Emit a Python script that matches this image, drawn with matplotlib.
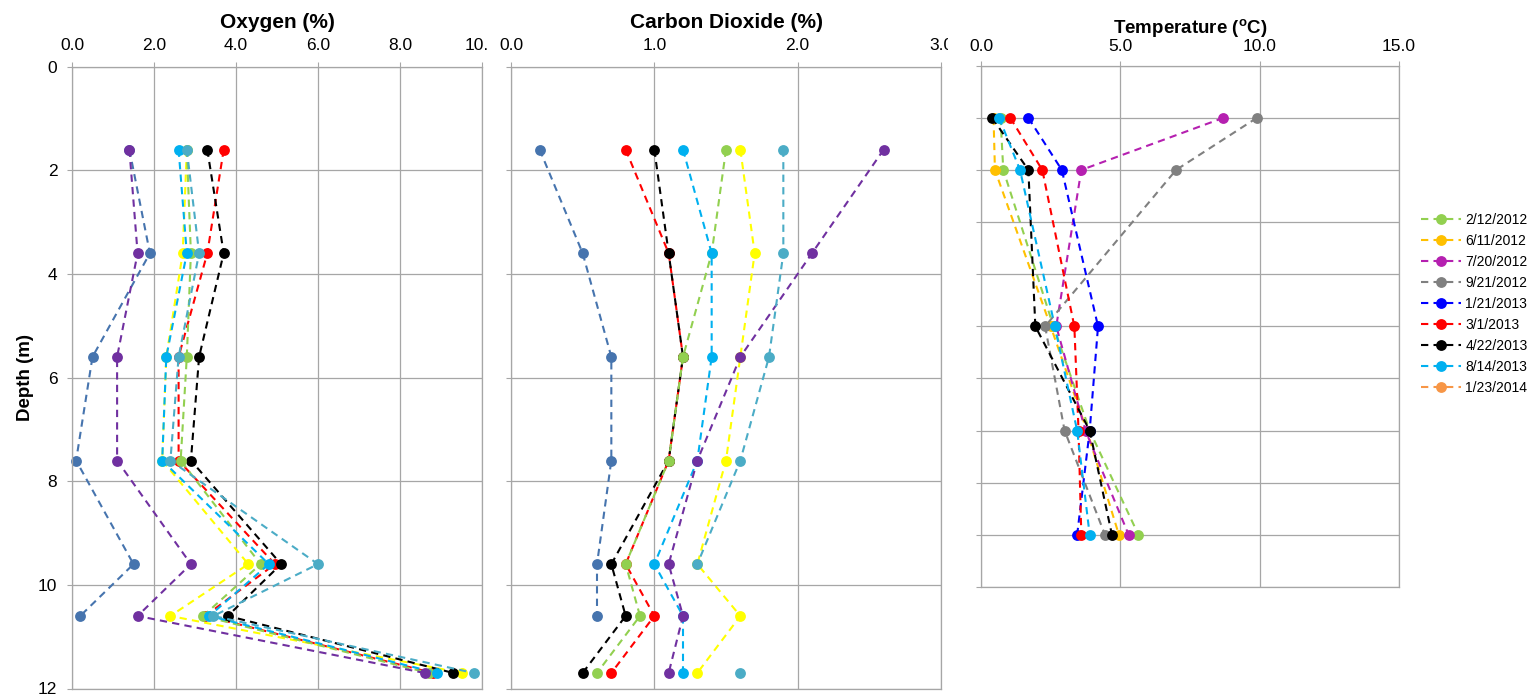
import numpy as np
import matplotlib
matplotlib.use("Agg")
import matplotlib.pyplot as plt
from matplotlib.transforms import Bbox, TransformedBbox

plt.rcParams['font.family'] = ['Liberation Sans', 'DejaVu Sans']
plt.rcParams['mathtext.fontset'] = 'custom'
plt.rcParams['mathtext.rm'] = 'Liberation Sans'
plt.rcParams['mathtext.bf'] = 'Liberation Sans:bold'

nan = np.nan

# gas sampling depths (m)
gas_depth = [1.6, 3.6, 5.6, 7.6, 9.6, 10.6, 11.7]

# oxygen (%)
o2_steel = [1.4, 1.9, 0.5, 0.1, 1.5, 0.2, nan]
o2_yellow = [2.8, 2.7, 2.3, 2.2, 4.3, 2.4, 9.5]
o2_red = [3.7, 3.3, 2.6, 2.6, 4.95, 3.25, 8.8]
o2_black = [3.3, 3.7, 3.1, 2.9, 5.1, 3.8, 9.3]
o2_green = [2.8, 2.9, 2.8, 2.65, 4.6, 3.2, 8.7]
o2_cyan = [2.6, 2.8, 2.3, 2.2, 4.8, 3.35, 8.9]
o2_purple = [1.4, 1.6, 1.1, 1.1, 2.9, 1.6, 8.6]
o2_teal = [2.8, 3.1, 2.6, 2.4, 6.0, 3.45, 9.8]

# carbon dioxide (%)
co2_steel = [0.2, 0.5, 0.7, 0.7, 0.6, 0.6, nan]
co2_yellow = [1.6, 1.7, 1.6, 1.5, 1.3, 1.6, 1.3]
co2_red = [0.8, 1.1, 1.2, 1.1, 0.8, 1.0, 0.7]
co2_black = [1.0, 1.1, 1.2, 1.1, 0.7, 0.8, 0.5]
co2_green = [1.5, 1.4, 1.2, 1.1, 0.8, 0.9, 0.6]
co2_cyan = [1.2, 1.4, 1.4, 1.3, 1.0, 1.2, 1.2]
co2_purple = [2.6, 2.1, 1.6, 1.3, 1.1, 1.2, 1.1]
co2_teal = [1.9, 1.9, 1.8, 1.6, 1.3, nan, 1.6]

gas_colors = ['#4674AE', '#FFFF00', '#FF0000', '#000000',
              '#92D050', '#00B0F0', '#7030A0', '#4BACC6']

# temperature (deg C)
temp_depth = [1, 2, 5, 7, 9]
temp_dates = ['2/12/2012', '6/11/2012', '7/20/2012', '9/21/2012', '1/21/2013',
              '3/1/2013', '4/22/2013', '8/14/2013', '1/23/2014']
t_feb12 = [0.7, 0.8, 2.6, 3.9, 5.65]
t_jun12 = [0.45, 0.5, 2.5, 3.8, 4.95]
t_jul12 = [8.7, 3.6, 2.7, 3.75, 5.3]
t_sep12 = [9.9, 7.0, 2.3, 3.0, 4.45]
t_jan13 = [1.7, 2.9, 4.2, 3.9, 3.45]
t_mar13 = [1.05, 2.2, 3.35, 3.5, 3.6]
t_apr13 = [0.4, 1.7, 1.95, 3.9, 4.7]
t_aug13 = [0.65, 1.4, 2.65, 3.45, 3.9]
t_jan14 = [nan, nan, nan, nan, nan]
temp_colors = ['#92D050', '#FFC000', '#B520B0', '#808080', '#0000FF',
               '#FF0000', '#000000', '#00B0F0', '#F79646']

GRID = '#a6a6a6'
W, H = 1535, 698


def px_axes(fig, x0, x1, y0, y1):
    return fig.add_axes([x0 / W, 1 - y1 / H, (x1 - x0) / W, (y1 - y0) / H])


def style(ax, xmax, xstep, ymax, ystep, ylabels):
    ax.set_xlim(0, xmax)
    ax.set_ylim(ymax, 0)
    xt = np.arange(0, xmax + 0.001, xstep)
    ax.set_xticks(xt)
    ax.set_xticklabels(['%.1f' % v for v in xt])
    ax.set_yticks(np.arange(0, ymax + 0.001, ystep))
    if not ylabels:
        ax.set_yticklabels([])
    ax.xaxis.tick_top()
    ax.tick_params(axis='x', length=3.6, color=GRID, pad=6, labelsize=12.5)
    ax.tick_params(axis='y', length=3.6, color=GRID, pad=7, labelsize=12.5)
    ax.grid(True, color=GRID, lw=0.9)
    ax.set_axisbelow(True)
    for s in ax.spines.values():
        s.set_color(GRID)
        s.set_linewidth(0.9)


def series(ax, x, y, c, label=None):
    ax.plot(x, y, color=c, lw=1.5, dashes=(3.5, 2.5), marker='o', ms=7.8,
            markeredgewidth=0, label=label, clip_on=False)


fig = plt.figure(figsize=(W / 100, H / 100), dpi=100)

# oxygen
ax1 = px_axes(fig, 72, 482, 66.7, 688.5)
style(ax1, 10, 2, 12, 2, True)
for vals, c in zip([o2_steel, o2_yellow, o2_red, o2_black, o2_green,
                    o2_cyan, o2_purple, o2_teal], gas_colors):
    series(ax1, vals, gas_depth, c)
ax1.text(0.5, 1.062, 'Oxygen (%)', transform=ax1.transAxes, ha='center',
         va='baseline', fontsize=15, fontweight='bold')
ax1.set_ylabel('Depth (m)', fontsize=13.5, fontweight='bold', labelpad=3)

# carbon dioxide
ax2 = px_axes(fig, 511, 941, 66.7, 688.5)
style(ax2, 3, 1, 12, 2, False)
for vals, c in zip([co2_steel, co2_yellow, co2_red, co2_black, co2_green,
                    co2_cyan, co2_purple, co2_teal], gas_colors):
    series(ax2, vals, gas_depth, c)
ax2.text(0.5, 1.062, 'Carbon Dioxide (%)', transform=ax2.transAxes,
         ha='center', va='baseline', fontsize=15, fontweight='bold')

# temperature
ax3 = px_axes(fig, 981, 1399, 65.7, 587)
style(ax3, 15, 5, 10, 1, False)
ax3.tick_params(axis='x', pad=4.5)
for vals, c, lab in zip([t_feb12, t_jun12, t_jul12, t_sep12, t_jan13,
                         t_mar13, t_apr13, t_aug13, t_jan14],
                        temp_colors, temp_dates):
    series(ax3, vals, temp_depth, c, lab)
ax3.text(0.5, 1.062, r'Temperature ($\mathbf{^o}$C)', transform=ax3.transAxes,
         ha='center', va='baseline', fontsize=13.5, fontweight='bold')

# chart objects sit side by side, so the last x labels get cut off
for ax, edge in [(ax1, 488), (ax2, 948)]:
    lab = ax.get_xticklabels()[-1]
    lab.set_clip_box(TransformedBbox(Bbox.from_extents(0, 0, edge / W, 1),
                                     fig.transFigure))
    lab.set_clip_on(True)

handles, labels = ax3.get_legend_handles_labels()
fig.legend(handles, labels, loc='upper left',
           bbox_to_anchor=(1421 / W, 1 - 213 / H), frameon=False,
           fontsize=10, handlelength=2.9, handletextpad=0.3,
           labelspacing=0.5, borderpad=0, borderaxespad=0)

fig.savefig('out.png', dpi=100)
